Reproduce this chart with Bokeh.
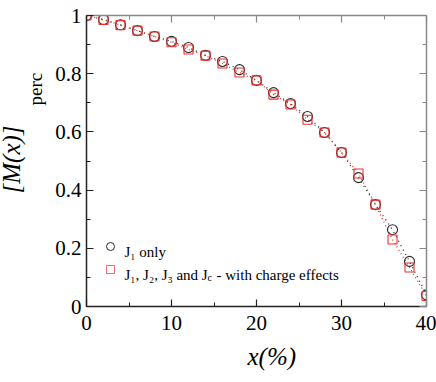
import math
from bokeh.plotting import figure
from bokeh.models import Range1d, LinearAxis, FixedTicker, CustomJSTickFormatter, Label, Title
from bokeh.embed import file_html
from bokeh.resources import INLINE

# ---- data ----
conc = [0, 2, 4, 6, 8, 10, 12, 14, 16, 18, 20, 22, 24, 26, 28, 30, 32, 34, 36, 38, 40]
m_j1_only = [1.000, 0.986, 0.968, 0.948, 0.928, 0.911, 0.890, 0.863, 0.842, 0.814, 0.777,
             0.735, 0.697, 0.653, 0.598, 0.529, 0.443, 0.350, 0.264, 0.155, 0.040]
m_charge = [1.000, 0.985, 0.967, 0.948, 0.928, 0.908, 0.883, 0.862, 0.835, 0.804, 0.777,
            0.728, 0.694, 0.642, 0.598, 0.529, 0.457, 0.350, 0.230, 0.134, 0.036]

x_major = [0, 10, 20, 30, 40]
x_minor = [5, 15, 25, 35]
y_major = [0, 0.2, 0.4, 0.6, 0.8, 1.0]
y_minor = [0.1, 0.3, 0.5, 0.7, 0.9]

label_j1 = "J₁ only"
label_all_a = "J₁, J₂, J₃ and J"
label_all_sub = "c"
label_all_b = "- with charge effects"
x_title = "x(%)"
y_title_a = "[M(x)]"
y_title_b = "perc"

BLACK = "#2b2b2b"
RED = "#ee3030"
SERIF = "Liberation Serif"

FL, FR, FT, FB = 86, 426, 15, 306   # frame edges in page pixels

p = figure(width=436, height=382, output_backend="svg", toolbar_location=None,
           x_range=Range1d(0, 40), y_range=Range1d(0, 1),
           min_border_left=FL, min_border_right=436 - FR, min_border_top=FT,
           min_border_bottom=382 - FB,
           x_axis_location=None, y_axis_location=None)
p.outline_line_color = None
p.xgrid.visible = False
p.ygrid.visible = False
p.background_fill_color = "white"
p.border_fill_color = "white"

fmt = CustomJSTickFormatter(code="return String(Math.round(tick*10)/10);")

def style_axis(ax, ticks, minor, show_labels, color):
    ax.ticker = FixedTicker(ticks=ticks, minor_ticks=minor)
    ax.formatter = fmt
    ax.axis_line_color = color
    ax.axis_line_width = 1.5
    ax.major_tick_line_color = color
    ax.minor_tick_line_color = color
    ax.major_tick_line_width = 1.2
    ax.minor_tick_line_width = 1.0
    ax.major_tick_in = 7
    ax.major_tick_out = 0
    ax.minor_tick_in = 4
    ax.minor_tick_out = 0
    if show_labels:
        ax.major_label_text_font = SERIF
        ax.major_label_text_font_size = "21px"
        ax.major_label_text_color = "black"
    else:
        ax.major_label_text_font_size = "0px"
        ax.major_label_standoff = 0
        ax.major_label_text_color = None

bottom = LinearAxis()
style_axis(bottom, x_major, x_minor, True, "#222222")
bottom.major_label_standoff = 9
left = LinearAxis()
style_axis(left, y_major, y_minor, True, "#222222")
left.major_label_standoff = 5
top = LinearAxis()
style_axis(top, x_major, x_minor, False, "#888888")
right = LinearAxis()
style_axis(right, y_major, y_minor, False, "#888888")
p.add_layout(bottom, "below")
p.add_layout(left, "left")
p.add_layout(top, "above")
p.add_layout(right, "right")

# axis titles as side-panel titles (stacked outward from the frame)
p.add_layout(Title(text=x_title, align="left", offset=161, standoff=16,
                   text_font=SERIF, text_font_size="25px", text_font_style="italic",
                   text_color="black"), "below")
p.add_layout(Title(text=y_title_b, align="left", offset=201, standoff=13,
                   text_font=SERIF, text_font_size="19px", text_font_style="normal",
                   text_color="black"), "left")
p.add_layout(Title(text=y_title_a, align="left", offset=113, standoff=-16,
                   text_font=SERIF, text_font_size="25px", text_font_style="italic",
                   text_color="black"), "left")

# series
p.line(conc, m_j1_only, line_color=BLACK, line_dash="1 4", line_width=1.3)
p.line(conc, m_charge, line_color=RED, line_dash="1 3", line_width=1.3)
p.scatter(conc, m_j1_only, marker="circle", size=10, fill_color=None,
          line_color=BLACK, line_width=1.1)
p.scatter(conc, m_charge, marker="square", size=9, fill_color=None,
          line_color=RED, line_width=1.1)

# page pixel -> frame-relative screen units (x from frame left, y up from frame bottom)
def SX(px):
    return px - FL

def SY(py):
    return FB - py

def add_text(px, py, text, size, style="normal"):
    p.add_layout(Label(x=SX(px), y=SY(py), x_units="screen", y_units="screen", text=text,
                       text_font=SERIF, text_font_size=size, text_font_style=style,
                       text_baseline="alphabetic", text_align="left", text_color="black"))

# legend (inside plot, no box)
p.scatter([SX(110) / 8.5], [SY(246) / 291], marker="circle", size=8, fill_color=None,
          line_color=BLACK, line_width=1)
p.scatter([SX(110) / 8.5], [SY(269) / 291], marker="square", size=8, fill_color=None,
          line_color="#f07070", line_width=1)
add_text(124, 251, label_j1, "15px")
add_text(124, 274, label_all_a, "15px")
add_text(207, 277, label_all_sub, "10px")
add_text(216, 274, label_all_b, "15px")

open("out.html", "w").write(file_html(p, INLINE))
